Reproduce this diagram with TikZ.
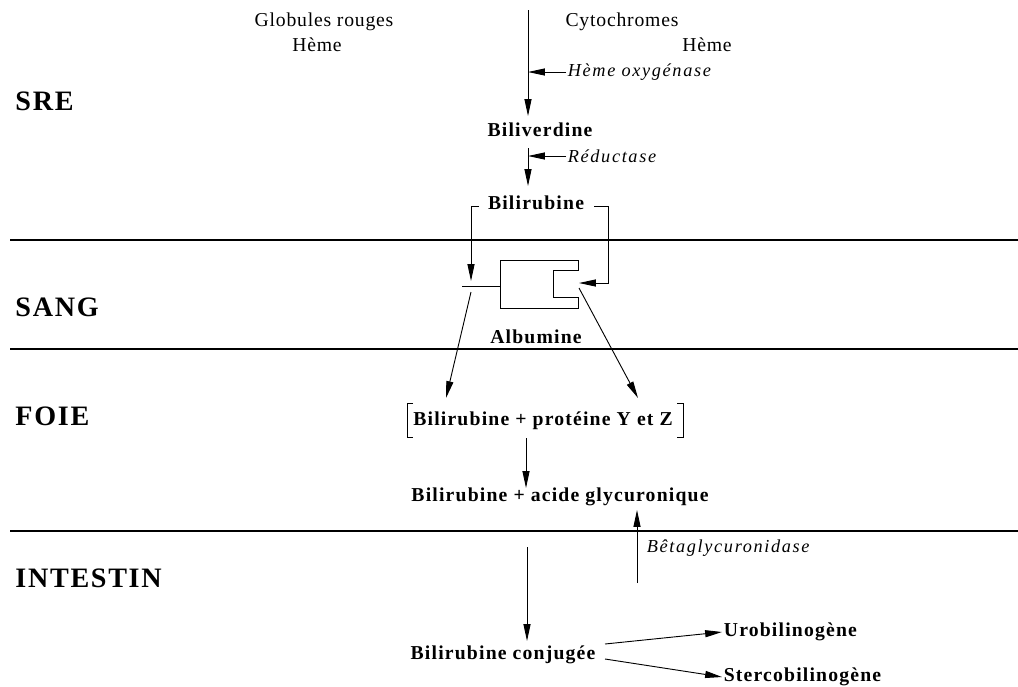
\documentclass[tikz,border=0pt]{standalone}
\usepackage{fontspec}
\setmainfont{Liberation Serif}
\newfontfamily\rmA[LetterSpace=4]{Liberation Serif}
\newfontfamily\itA[LetterSpace=9]{Liberation Serif}
\newfontfamily\bfA[LetterSpace=6]{Liberation Serif}
\newfontfamily\hdA[LetterSpace=6]{Liberation Serif}
\usetikzlibrary{arrows.meta}
\begin{document}
\begin{tikzpicture}[x=0.025cm,y=-0.025cm,line width=0.65pt,
  >={Triangle[length=12pt,width=5pt]},
  rm/.style={inner sep=1pt,font=\rmA\fontsize{14}{16}\selectfont},
  it/.style={inner sep=1pt,font=\itA\itshape\fontsize{13}{15}\selectfont},
  bf/.style={inner sep=1pt,font=\bfA\bfseries\fontsize{14}{16}\selectfont},
  hd/.style={inner sep=0pt,anchor=west,font=\hdA\bfseries\fontsize{20}{22}\selectfont},
  sep/.style={line width=0.8pt}]
\useasboundingbox (0,0) rectangle (1018,686);
% separators
\coordinate (s1a) at (10,240); \coordinate (s1b) at (1018,240);
\coordinate (s2a) at (10,349); \coordinate (s2b) at (1018,349);
\coordinate (s3a) at (10,531); \coordinate (s3b) at (1018,531);
\draw[sep] (s1a) -- (s1b);
\draw[sep] (s2a) -- (s2b);
\draw[sep] (s3a) -- (s3b);
% headings
\node[hd] (sre) at (15,101) {SRE};
\node[hd] (sang) at (15,307) {SANG};
\node[hd] (foie) at (15,416) {FOIE};
\node[hd] (intes) at (15,578) {INTESTIN};
% top labels
\node[rm] (glob) at (324,22) {Globules rouges};
\node[rm] (heme1) at (317,45) {Hème};
\node[rm] (cyto) at (622,22) {Cytochromes};
\node[rm] (heme2) at (707,45) {Hème};
% main chain
\coordinate (top) at (528,10);
\coordinate (a1e) at (528,116);
\node[bf] (bv) at (540,130) {Biliverdine};
\draw[->] (top) -- (a1e);
\node[it,anchor=west] (ho) at (566,72) {Hème oxygénase};
\draw[->] (ho.west) -- (top |- ho.west);
\coordinate (a2s) at (528,148);
\coordinate (a2e) at (528,186);
\draw[->] (a2s) -- (a2e);
\node[it,anchor=west] (red) at (566,156) {Réductase};
\draw[->] (red.west) -- (a2s |- red.west);
\node[bf] (br) at (536,203) {Bilirubine};
% brackets to albumin
\coordinate (lbs) at (479,206);
\coordinate (rbs) at (594,206);
\coordinate (ltip) at (471,281);
\coordinate (rc) at (608,283);
\coordinate (rtip) at (579,283);
\draw[->] (lbs) -| (ltip);
\draw[->] (rbs) -| (rc) -- (rtip);
% albumin
\coordinate (tk) at (462,286);
\coordinate (alb) at (500,286);
\draw (tk) -- (alb);
\draw (500,260) -- (578,260) -- (578,270) -- (553,270) -- (553,297) -- (578,297) -- (578,308) -- (500,308) -- cycle;
\node[bf] (albl) at (536,337) {Albumine};
% to liver
\coordinate (d1s) at (471,292);
\coordinate (d1e) at (446,398);
\coordinate (d2s) at (579,288);
\coordinate (d2e) at (638,398);
\draw[->] (d1s) -- (d1e);
\draw[->] (d2s) -- (d2e);
\node[bf] (prot) at (543,421) {Bilirubine + protéine Y et Z};
\draw (413,403) -- (407,403) -- (407,437) -- (413,437);
\draw (677,403) -- (683,403) -- (683,437) -- (677,437);
\coordinate (a3s) at (526,438);
\coordinate (a3e) at (526,488);
\draw[->] (a3s) -- (a3e);
\node[bf] (acid) at (560,497) {Bilirubine + acide glycuronique};
% intestine
\coordinate (bs) at (637,583);
\coordinate (be) at (637,510);
\draw[->] (bs) -- (be);
\node[it,anchor=west] (beta) at (645,548) {Bêtaglycuronidase};
\coordinate (a4s) at (527,547);
\coordinate (a4e) at (527,641);
\draw[->] (a4s) -- (a4e);
\node[bf] (conj) at (503,655) {Bilirubine conjugée};
\node[bf,anchor=west] (uro) at (722,632) {Urobilinogène};
\node[bf,anchor=west] (ster) at (722,677) {Stercobilinogène};
\draw[->] (605,644) -- (uro.west);
\draw[->] (605,659) -- (ster.west);
\end{tikzpicture}
\end{document}
